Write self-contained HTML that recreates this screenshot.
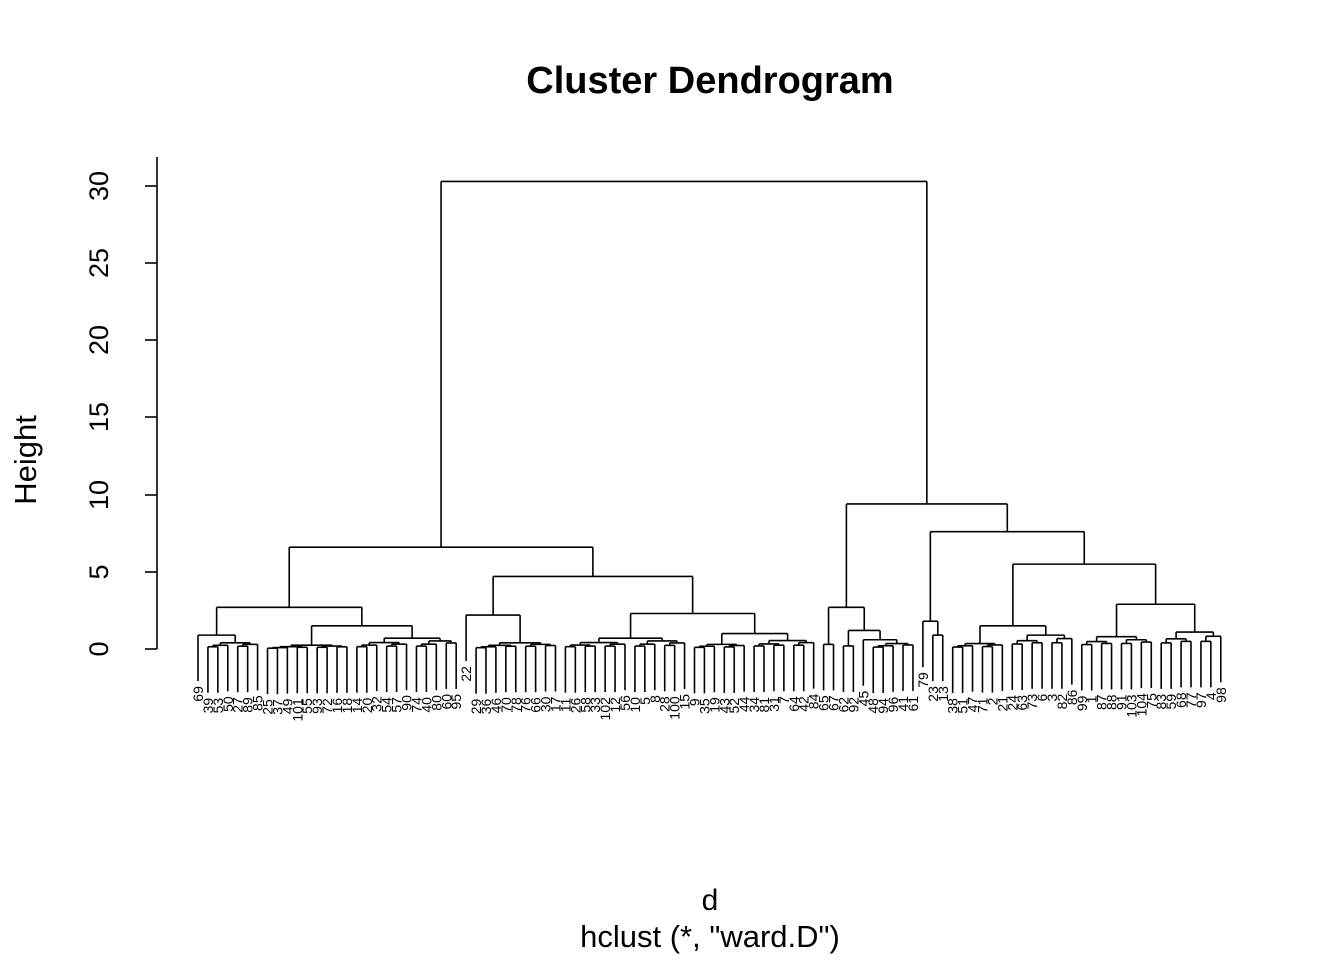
<!DOCTYPE html>
<html><head><meta charset="utf-8"><style>
html,body{margin:0;padding:0;background:#fff;}
svg{display:block;font-family:"Liberation Sans",sans-serif;}
</style></head><body>
<svg id="s" width="1344" height="960" viewBox="0 0 1344 960" xmlns="http://www.w3.org/2000/svg">
<text x="710" y="93" text-anchor="middle" font-size="38" font-weight="bold">Cluster Dendrogram</text>
<text x="710" y="910" text-anchor="middle" font-size="30">d</text>
<text x="710" y="947" text-anchor="middle" font-size="31">hclust (*, "ward.D")</text>
<text transform="translate(36,460) rotate(-90)" text-anchor="middle" font-size="31">Height</text>
<g stroke="#000" stroke-width="1.6" fill="none">
<line x1="157" y1="157" x2="157" y2="649"/>
<line x1="145" y1="649" x2="157" y2="649"/>
<line x1="145" y1="572" x2="157" y2="572"/>
<line x1="145" y1="495" x2="157" y2="495"/>
<line x1="145" y1="417" x2="157" y2="417"/>
<line x1="145" y1="340" x2="157" y2="340"/>
<line x1="145" y1="263" x2="157" y2="263"/>
<line x1="145" y1="186" x2="157" y2="186"/>
</g>
<g font-size="27" text-anchor="middle">
<text transform="translate(108,649) rotate(-90)">0</text>
<text transform="translate(108,572) rotate(-90)">5</text>
<text transform="translate(108,495) rotate(-90)">10</text>
<text transform="translate(108,417) rotate(-90)">15</text>
<text transform="translate(108,340) rotate(-90)">20</text>
<text transform="translate(108,263) rotate(-90)">25</text>
<text transform="translate(108,186) rotate(-90)">30</text>
</g>
<g id="tree" stroke="#000" stroke-width="1.6" fill="none"></g>
<g id="labs" font-size="14" text-anchor="end"></g>
</svg>
<script>
var labels=[69,39,53,50,27,89,85,25,37,49,101,55,93,72,16,18,14,20,32,54,57,90,74,40,80,60,95,22,29,36,46,70,78,76,66,30,17,11,26,58,33,102,12,56,10,5,8,28,100,15,9,35,19,43,52,44,34,81,31,7,64,42,84,65,67,62,92,45,48,94,96,41,61,79,23,13,38,51,47,71,2,21,24,63,73,6,3,82,86,99,1,87,88,91,103,104,75,83,59,68,77,97,4,98];
var S=15.43,Y=function(h){return 649-h*S;};
function L(){return {leaf:true};}
function G(n,h){if(n==1)return L();var a=Math.ceil(n/2);return {h:h,l:G(a,h*0.6),r:G(n-a,h*0.75)};}
function N(h,l,r){return {h:h,l:l,r:r};}
var A=N(2.7,N(0.9,L(),G(6,0.4)),N(1.5,G(9,0.25),G(11,0.7)));
var B=N(4.7,N(2.2,L(),G(9,0.4)),N(2.3,G(13,0.7),N(1.0,G(6,0.3),G(7,0.55))));
var R1=N(2.7,G(2,0.3),N(1.2,G(2,0.2),N(0.6,L(),G(5,0.35))));
var R2a=N(1.8,L(),N(0.9,L(),L()));
var R2b=N(5.5,N(1.5,G(6,0.35),G(7,0.9)),N(2.9,G(8,0.8),G(7,1.1)));
var root=N(30.3,N(6.6,A,B),N(9.4,R1,N(7.6,R2a,R2b)));
var idx=0,tree=document.getElementById('tree'),labs=document.getElementById('labs'),ns="http://www.w3.org/2000/svg";
function line(x1,y1,x2,y2){var e=document.createElementNS(ns,'line');e.setAttribute('x1',x1);e.setAttribute('y1',y1);e.setAttribute('x2',x2);e.setAttribute('y2',y2);tree.appendChild(e);}
function pos(n){if(n.leaf){n.x=198+(idx)*9.93;n.i=idx;idx++;return;}pos(n.l);pos(n.r);n.x=(n.l.x+n.r.x)/2;}
function draw(n){var y=Y(n.h);line(n.l.x,y,n.r.x,y);[n.l,n.r].forEach(function(c){if(c.leaf){var yb=y+46;line(c.x,y,c.x,yb);var t=document.createElementNS(ns,'text');t.setAttribute('transform','translate('+(c.x+5)+','+(yb+5)+') rotate(-90)');t.textContent=labels[c.i];labs.appendChild(t);}else{line(c.x,y,c.x,Y(c.h));draw(c);}});}
pos(root);draw(root);
</script>
</body></html>
